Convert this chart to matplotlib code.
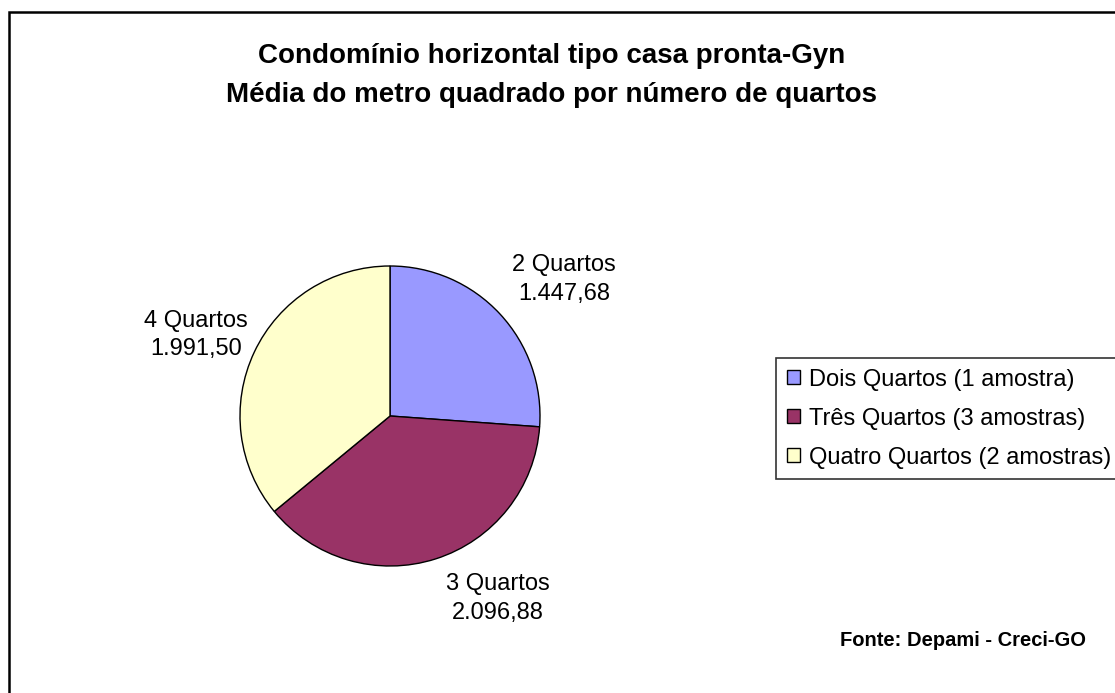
import numpy as np
import matplotlib
matplotlib.use('Agg')
import matplotlib.pyplot as plt
from matplotlib.patches import Rectangle

plt.rcParams['font.family'] = ['Liberation Sans', 'DejaVu Sans']

# dados
categorias = ['2 Quartos', '3 Quartos', '4 Quartos']
valores = [1447.68, 2096.88, 1991.50]
legenda = ['Dois Quartos (1 amostra)', 'Três Quartos (3 amostras)', 'Quatro Quartos (2 amostras)']
cores = ['#9999FF', '#993366', '#FFFFCC']

titulo1 = 'Condomínio horizontal tipo casa pronta-Gyn'
titulo2 = 'Média do metro quadrado por número de quartos'
fonte = 'Fonte: Depami - Creci-GO'

# (distancia em raios, deslocamento angular em graus) para cada rotulo
posicao_rotulos = [(1.474, -4.85), (1.414, 12.9), (1.401, 2.55)]

W, H = 1115, 693


def fmt_br(v):
    s = '{:,.2f}'.format(v)
    return s.replace(',', 'X').replace('.', ',').replace('X', '.')


fig = plt.figure(figsize=(W / 100, H / 100), dpi=100)

# moldura do grafico
fig.patches.append(Rectangle((9 / W, -0.1), 1.2, (H - 12) / H + 0.1,
                             transform=fig.transFigure, fill=False,
                             edgecolor='black', linewidth=1.8))

cx, cy, r = 390, 416, 150
ax = fig.add_axes([(cx - r) / W, (H - cy - r) / H, 2 * r / W, 2 * r / H])
wedges, _ = ax.pie(valores, colors=cores, startangle=90, counterclock=False,
                   wedgeprops={'edgecolor': 'black', 'linewidth': 1.0})
ax.set_xlim(-1, 1)
ax.set_ylim(-1, 1)

for w, cat, v, (dist, shift) in zip(wedges, categorias, valores, posicao_rotulos):
    mid = np.deg2rad((w.theta1 + w.theta2) / 2 + shift)
    ax.text(dist * np.cos(mid), dist * np.sin(mid), cat + '\n' + fmt_br(v),
            ha='center', va='center', multialignment='center',
            fontsize=17, linespacing=1.38, clip_on=False)

fig.text(552 / W, 1 - 56 / H, titulo1, ha='center', va='center',
         fontsize=20, fontweight='bold')
fig.text(552 / W, 1 - 95 / H, titulo2, ha='center', va='center',
         fontsize=20, fontweight='bold')

leg = fig.legend(wedges, legenda, loc='upper left',
                 bbox_to_anchor=(776 / W, 1 - 358 / H), fontsize=17,
                 frameon=True, fancybox=False, shadow=False,
                 handlelength=0.55, handleheight=0.55, handletextpad=0.4,
                 labelspacing=0.72, borderpad=0.45, borderaxespad=0)
leg.get_frame().set_edgecolor('black')
leg.get_frame().set_linewidth(1.2)

fig.text(840 / W, 1 - 640 / H, fonte, ha='left', va='center',
         fontsize=14.5, fontweight='bold')

fig.savefig('out.png', dpi=100)
